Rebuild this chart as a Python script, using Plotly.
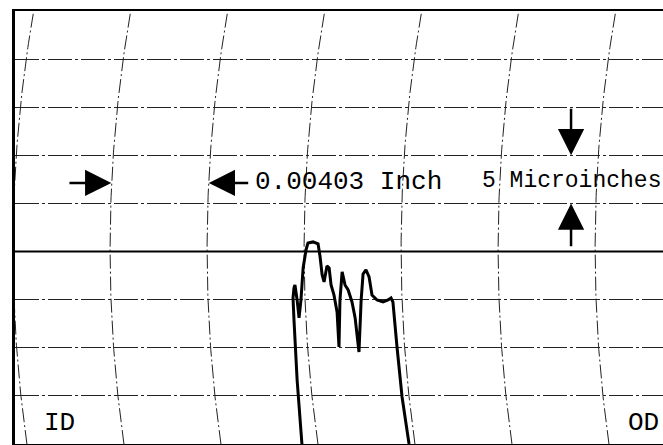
import numpy as np
import plotly.graph_objects as go

# Profile trace: horizontal position (mils, from left border) and height (microinches)
profile_x = [11.92, 11.72, 11.59, 11.55, 11.59, 11.63, 11.72, 11.80, 11.88, 11.97,
             12.09, 12.17, 12.38, 12.59, 12.67, 12.76, 12.84, 12.96, 13.05, 13.13,
             13.25, 13.38, 13.46, 13.50, 13.59, 13.71, 13.84, 14.00, 14.13, 14.29,
             14.38, 14.46, 14.58, 14.71, 14.83, 15.04, 15.29, 15.50, 15.62, 15.70,
             15.87, 16.08, 16.37]
profile_y = [0.00, 6.65, 12.89, 15.18, 16.22, 16.53, 14.97, 13.10, 14.97, 18.30,
             20.17, 20.89, 21.00, 20.79, 19.54, 17.57, 16.84, 18.50, 18.30, 16.53,
             15.49, 13.72, 10.08, 14.97, 17.88, 16.53, 16.01, 14.76, 13.10, 9.56,
             14.97, 17.67, 18.09, 17.36, 15.49, 14.97, 14.76, 14.97, 15.18, 14.76,
             10.08, 4.89, 0.00]

# Chart grid
division_mils = 4.03            # one horizontal division = 0.00403 inch
division_uin = 5                # one vertical division = 5 microinches
arc_offsets = [-0.08 + division_mils * k for k in range(7)]
arc_center_y = 20.27
arc_curvature = 0.0014
x_range = [0, 26.92]
y_range = [0, 45]

fig = go.Figure()

yy = np.linspace(y_range[0], y_range[1], 120)
for x0 in arc_offsets:
    fig.add_trace(go.Scatter(
        x=x0 + arc_curvature * (yy - arc_center_y) ** 2, y=yy, mode="lines",
        line=dict(color="#222222", width=1, dash="14px,3px,2px,3px"),
        hoverinfo="skip", showlegend=False))

fig.add_trace(go.Scatter(
    x=profile_x, y=profile_y, mode="lines",
    line=dict(color="black", width=3), showlegend=False))

# heavier reference line
fig.add_shape(type="line", xref="paper", x0=0, x1=1, y0=20, y1=20,
              line=dict(color="black", width=2))

mono = "Liberation Mono, Courier New, monospace"
fig.add_annotation(x=9.89, y=27.2, text="0.00403 Inch", showarrow=False,
                   xanchor="left", yanchor="middle",
                   font=dict(family=mono, size=26, color="black"))
fig.add_annotation(x=19.32, y=27.3, text="5 Microinches", showarrow=False,
                   xanchor="left", yanchor="middle",
                   font=dict(family=mono, size=23, color="black"))
fig.add_annotation(x=1.83, y=2.2, text="ID", showarrow=False,
                   font=dict(family=mono, size=26, color="black"))
fig.add_annotation(x=26.13, y=2.2, text="OD", showarrow=False,
                   font=dict(family=mono, size=26, color="black"))

# dimension arrows
arrow_style = dict(showarrow=True, arrowhead=2, arrowsize=2.1, arrowwidth=2.5,
                   arrowcolor="black", axref="x", ayref="y", text="")
fig.add_annotation(x=4.0, y=27.13, ax=2.2, ay=27.13, **arrow_style)
fig.add_annotation(x=8.05, y=27.13, ax=9.75, ay=27.13, **arrow_style)
fig.add_annotation(x=23.1, y=30.0, ax=23.1, ay=35.0, **arrow_style)
fig.add_annotation(x=23.1, y=25.0, ax=23.1, ay=20.4, **arrow_style)

fig.update_xaxes(range=x_range, showgrid=False, zeroline=False, showticklabels=False,
                 ticks="", showline=True, mirror=True, linecolor="black", linewidth=2)
fig.update_yaxes(range=y_range, dtick=division_uin, showgrid=True, gridcolor="#222222",
                 gridwidth=1, griddash="24px,3px,3px,3px", zeroline=False,
                 showticklabels=False, ticks="", showline=True, linecolor="black",
                 linewidth=3)
fig.update_layout(width=663, height=445, margin=dict(l=15, r=0, t=11, b=1),
                  plot_bgcolor="white", paper_bgcolor="white", showlegend=False)

fig.write_html("out.html", config={"displayModeBar": False},
               post_script="document.body.style.margin='0';document.body.style.overflow='hidden';")
